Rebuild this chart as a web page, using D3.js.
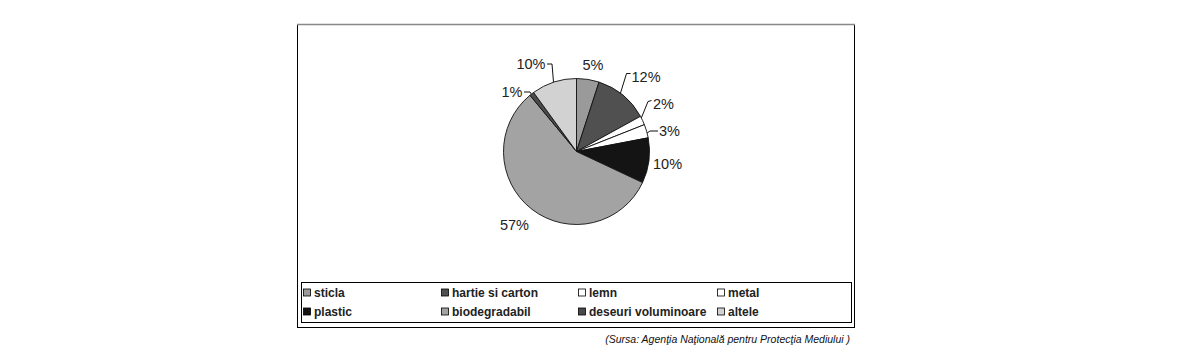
<!DOCTYPE html>
<html><head><meta charset="utf-8">
<script src="https://cdn.jsdelivr.net/npm/d3@7/dist/d3.min.js"></script>
<style>body{margin:0;background:#fff}svg{display:block}</style>
</head><body>
<svg id="c" width="1182" height="361"></svg>
<script>
const categories = ["sticla","hartie si carton","lemn","metal","plastic","biodegradabil","deseuri voluminoare","altele"];
const values = [5,12,2,3,10,57,1,10];
const colors = ["#9a9a9a","#505050","#ffffff","#ffffff","#141414","#a3a3a3","#4a4a4a","#d2d2d2"];
const labels = ["5%","12%","2%","3%","10%","57%","1%","10%"];
const sourceText = "(Sursa: Agenţia Naţională pentru Protecţia Mediului )";

const svg = d3.select("#c");
svg.append("rect").attr("x",297.5).attr("y",24.5).attr("width",557).attr("height",303)
  .attr("fill","#fff").attr("stroke","#000").attr("stroke-width",1);
svg.append("line").attr("x1",297).attr("x2",855).attr("y1",24.5).attr("y2",24.5).attr("stroke","#888").attr("stroke-width",1.5);

const cx=576.5, cy=151.5, r=73;
const pie = d3.pie().sort(null).value(d=>d)(values);
const arc = d3.arc().innerRadius(0).outerRadius(r);
const g = svg.append("g").attr("transform",`translate(${cx},${cy})`);
g.selectAll("path").data(pie).join("path").attr("d",arc)
  .attr("fill",(d,i)=>colors[i]).attr("stroke","#111").attr("stroke-width",0.9);

const labelPos = [[16.5,-87],[55,-75],[76.5,-48],[82.5,-21],[76.5,12],[-62,73],[-64.5,-59.5],[-45.5,-87.5]];
const anchors = ["middle","start","start","start","start","middle","middle","middle"];
const fs = 14.5;
labels.forEach((t,i)=>{
  g.append("text").attr("x",labelPos[i][0]).attr("y",labelPos[i][1]).attr("dy","0.36em")
   .attr("text-anchor",anchors[i]).attr("font-family","Liberation Sans, Arial, sans-serif")
   .attr("font-size",fs).attr("fill","#222").text(t);
});
function edge(i, f){ const p=pie[i]; const a=p.startAngle+(p.endAngle-p.startAngle)*f; return [Math.sin(a)*r, -Math.cos(a)*r]; }
const leaders = [
  [1, 0.44, [[54,-78],[50,-78]]],
  [2, 0.2,  [[75,-51],[71.5,-50]]],
  [3, 0.64, [[81.5,-20.5],[73.5,-20.5]]],
  [6, 0.4,  [[-52.5,-59.5],[-46.5,-59.5]]],
  [7, 0.49, [[-29.5,-87.5],[-24.5,-87.5]]]
];
leaders.forEach(([i,f,pts])=>{
  g.append("path").attr("d",d3.line()([...pts,edge(i,f)])).attr("fill","none").attr("stroke","#111").attr("stroke-width",1);
});

svg.append("rect").attr("x",301.5).attr("y",282.5).attr("width",550).attr("height",40)
  .attr("fill","#fff").attr("stroke","#000").attr("stroke-width",1);
const colX=[303,441,578,717], rowY=[292.5,311.5];
categories.forEach((c,i)=>{
  const x=colX[i%4], y=rowY[Math.floor(i/4)];
  svg.append("rect").attr("x",x+0.5).attr("y",y-3.5).attr("width",7).attr("height",7)
    .attr("fill",colors[i]).attr("stroke","#000").attr("stroke-width",0.8);
  svg.append("text").attr("x",x+11).attr("y",y).attr("dy","0.36em")
    .attr("font-family","Liberation Sans, Arial, sans-serif").attr("font-size",12)
    .attr("font-weight","bold").attr("fill","#222").text(c);
});

svg.append("text").attr("x",850).attr("y",339).attr("dy","0.35em").attr("text-anchor","end")
  .attr("font-family","Liberation Sans, Arial, sans-serif").attr("font-size",10.5)
  .attr("font-style","italic").attr("fill","#111").text(sourceText);
</script>
</body></html>
